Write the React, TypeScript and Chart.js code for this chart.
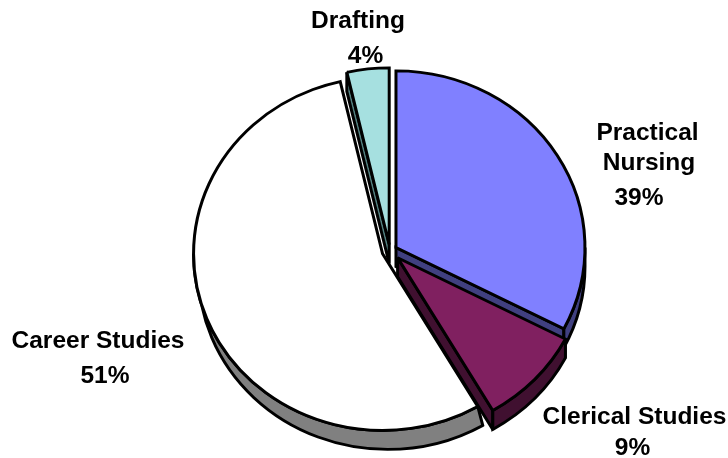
import React, { useEffect, useRef } from "react";
import { Chart, registerables } from "chart.js";

Chart.register(...registerables);

const categories = ["Practical Nursing", "Clerical Studies", "Career Studies", "Drafting"];
const labelLines = [["Practical", "Nursing", "39%"], ["Clerical Studies", "9%"], ["Career Studies", "51%"], ["Drafting", "4%"]];
// Share of the circle each slice covers in the picture
const sliceShares = [32.6, 9, 54.8, 3.6];
const sliceOffsets = [7, 10.5, 8, 7];
const rimSkews = [0, 0, 5, 0];
const topColors = ["#8080FF", "#802060", "#FFFFFF", "#A6E0E0"];
const sideColors = ["#404080", "#401030", "#808080", "#538080"];

const SQUASH = 0.935;
const DEPTH = 19;
const labelSpots = [
  [[647.5, 140], [649, 170], [639, 205]],
  [[634.5, 424], [632.5, 455]],
  [[98, 348], [105, 383]],
  [[358, 28], [365.5, 63]],
];

const pieLook = {
  id: "pieLook",
  beforeDatasetDraw(chart: any) {
    const ctx = chart.ctx;
    const arcs = chart.getDatasetMeta(0).data;
    const order = [2, 3, 0, 1];
    ctx.save();
    const c = arcs[0];
    ctx.translate(0, c.y);
    ctx.scale(1, SQUASH);
    ctx.translate(0, -c.y);
    ctx.miterLimit = 3;
    const d = DEPTH / SQUASH;
    ctx.lineJoin = "miter";
    const shift = (a: any, i: number) => {
      const mid = (a.startAngle + a.endAngle) / 2;
      return [Math.cos(mid) * sliceOffsets[i], Math.sin(mid) * sliceOffsets[i]];
    };
    for (const i of order) {
      const a = arcs[i];
      const [dx, dy] = shift(a, i);
      const x = a.x + dx;
      const y = a.y + dy;
      const r = a.outerRadius;
      ctx.lineWidth = 3;
      ctx.strokeStyle = "#000";
      ctx.fillStyle = sideColors[i];
      const face = (ang: number) => {
        ctx.beginPath();
        ctx.moveTo(x, y);
        ctx.lineTo(x + Math.cos(ang) * r, y + Math.sin(ang) * r);
        ctx.lineTo(x + Math.cos(ang) * r, y + Math.sin(ang) * r + d);
        ctx.lineTo(x, y + d);
        ctx.closePath();
        ctx.fill();
        ctx.stroke();
      };
      if (Math.sin(a.endAngle + Math.PI / 2) > 0) face(a.endAngle);
      if (Math.sin(a.startAngle - Math.PI / 2) > 0) face(a.startAngle);
      // outer rim: the part of the arc on the lower half of the circle
      const twoPi = Math.PI * 2;
      for (const k of [0, twoPi]) {
        const s = Math.max(a.startAngle, k);
        const e = Math.min(a.endAngle, k + Math.PI);
        if (e > s) {
          ctx.beginPath();
          ctx.arc(x, y, r, s, e);
          ctx.arc(x + rimSkews[i], y + d, r, e, s, true);
          ctx.closePath();
          ctx.fill();
          ctx.stroke();
        }
      }
    }
    // Each top face is drawn by the library's own arc, moved out by its offset
    for (const i of order) {
      const [dx, dy] = shift(arcs[i], i);
      ctx.save();
      ctx.translate(dx, dy);
      arcs[i].draw(ctx);
      ctx.restore();
    }
    ctx.restore();
    return false;
  },
  afterDatasetsDraw(chart: any) {
    const ctx = chart.ctx;
    ctx.save();
    ctx.font = "bold 24.5px 'Liberation Sans', Arial, sans-serif";
    ctx.fillStyle = "#000";
    ctx.textAlign = "center";
    ctx.textBaseline = "alphabetic";
    labelLines.forEach((lines, i) => {
      lines.forEach((t, j) => ctx.fillText(t, labelSpots[i][j][0], labelSpots[i][j][1]));
    });
    ctx.restore();
  },
};

export default function App() {
  const ref = useRef<HTMLCanvasElement>(null);
  useEffect(() => {
    const chart = new Chart(ref.current!, {
      type: "pie",
      data: {
        labels: categories,
        datasets: [
          {
            data: sliceShares,
            backgroundColor: topColors,
            borderColor: "#000",
            borderWidth: 3,
            borderAlign: "center",
            borderJoinStyle: "miter",
          } as any,
        ],
      },
      options: {
        responsive: false,
        animation: false,
        radius: 189,
        layout: { padding: { left: 52, top: 44 } },
        plugins: { legend: { display: false }, tooltip: { enabled: false } },
      } as any,
      plugins: [pieLook],
    });
    return () => chart.destroy();
  }, []);
  return (
    <div style={{ position: "absolute", left: 0, top: 0, width: 728, height: 458, background: "#fff" }}>
      <canvas ref={ref} width={728} height={458} style={{ display: "block" }} />
    </div>
  );
}
